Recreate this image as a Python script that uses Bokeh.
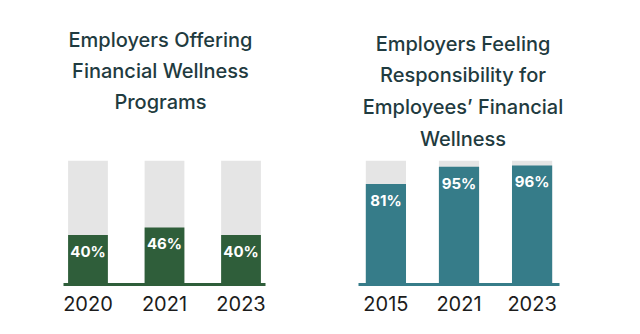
from bokeh.plotting import figure
from bokeh.models import FactorRange, Range1d, LabelSet, ColumnDataSource
from bokeh.core.properties import value
from bokeh.layouts import row, column
from bokeh.embed import file_html
from bokeh.resources import INLINE

# ---- data ----
left_title = ["Employers Offering", "Financial Wellness", "Programs"]
left_years = ["2020", "2021", "2023"]
left_values = [40, 46, 40]

right_title = ["Employers Feeling", "Responsibility for", "Employees\u2019 Financial", "Wellness"]
right_years = ["2015", "2021", "2023"]
right_values = [81, 95, 96]

FULL = 100  # background track = 100%

FONT = "Inter"
TITLE_FONT = "'Inter Medium', 'Inter SemiBold', Inter"
TITLE_COLOR = "#1f3b40"
GRAY = "#e5e5e5"
W = 320
TITLE_H = 150
CHART_H = 334 - TITLE_H


def title_fig(lines, cx, baselines):
    t = figure(width=W, height=TITLE_H, x_range=Range1d(0, W), y_range=Range1d(TITLE_H, 0),
               output_backend="svg", toolbar_location=None, title=None,
               x_axis_location=None, y_axis_location=None,
               min_border=0, min_border_left=0, min_border_right=0,
               min_border_top=0, min_border_bottom=0)
    t.grid.visible = False
    t.outline_line_color = None
    t.background_fill_color = "white"
    t.border_fill_color = "white"
    src = ColumnDataSource(dict(x=[cx] * len(lines), y=baselines, t=lines))
    t.text(x="x", y="y", text="t", source=src, text_align="center",
           text_baseline="alphabetic", text_font=value(TITLE_FONT), text_font_size="20px",
           text_color=TITLE_COLOR)
    return t


def chart_fig(years, values, color, frame_left, frame_w, frame_top, frame_bottom, pad, bar_w):
    p = figure(width=W, height=CHART_H, title=None,
               x_range=FactorRange(*years, range_padding=pad, range_padding_units="absolute"),
               y_range=Range1d(0, FULL), y_axis_location=None,
               output_backend="svg", toolbar_location=None,
               min_border_left=frame_left, min_border_right=W - frame_left - frame_w,
               min_border_top=frame_top, min_border_bottom=CHART_H - frame_bottom)
    p.outline_line_color = None
    p.xgrid.visible = False
    p.ygrid.visible = False
    p.background_fill_color = "white"
    p.border_fill_color = "white"

    src = ColumnDataSource(dict(x=years, v=values, full=[FULL] * len(years),
                                lab=[f"{v}%" for v in values]))
    p.vbar(x="x", top="full", width=bar_w, source=src, color=GRAY, line_color=None)
    p.vbar(x="x", top="v", width=bar_w, source=src, color=color, line_color=None)

    p.add_layout(LabelSet(x="x", y="v", text="lab", source=src, text_align="center",
                          text_baseline="top", y_offset=-7, text_color="white",
                          text_font=value(FONT), text_font_style="bold",
                          text_font_size="15px"))

    ax = p.xaxis[0]
    ax.axis_line_color = color
    ax.axis_line_width = 3
    ax.major_tick_line_color = None
    ax.minor_tick_line_color = None
    ax.major_label_text_font = FONT
    ax.major_label_text_font_size = "20px"
    ax.major_label_text_color = "#1c1c1c"
    ax.major_label_standoff = 5
    return p


lt = title_fig(left_title, 160, [39, 70, 101])
rt = title_fig(right_title, 462.5 - W, [43, 74.5, 106, 138])

left = chart_fig(left_years, left_values, "#2f5e3a",
                 frame_left=63, frame_w=202, frame_top=157 - TITLE_H, frame_bottom=284 - TITLE_H,
                 pad=-0.18, bar_w=0.52)
right = chart_fig(right_years, right_values, "#367c89",
                  frame_left=38, frame_w=201, frame_top=160 - TITLE_H, frame_bottom=284 - TITLE_H,
                  pad=-0.125, bar_w=0.55)

layout = column(row(lt, rt), row(left, right))
open("out.html", "w").write(file_html(layout, INLINE))
